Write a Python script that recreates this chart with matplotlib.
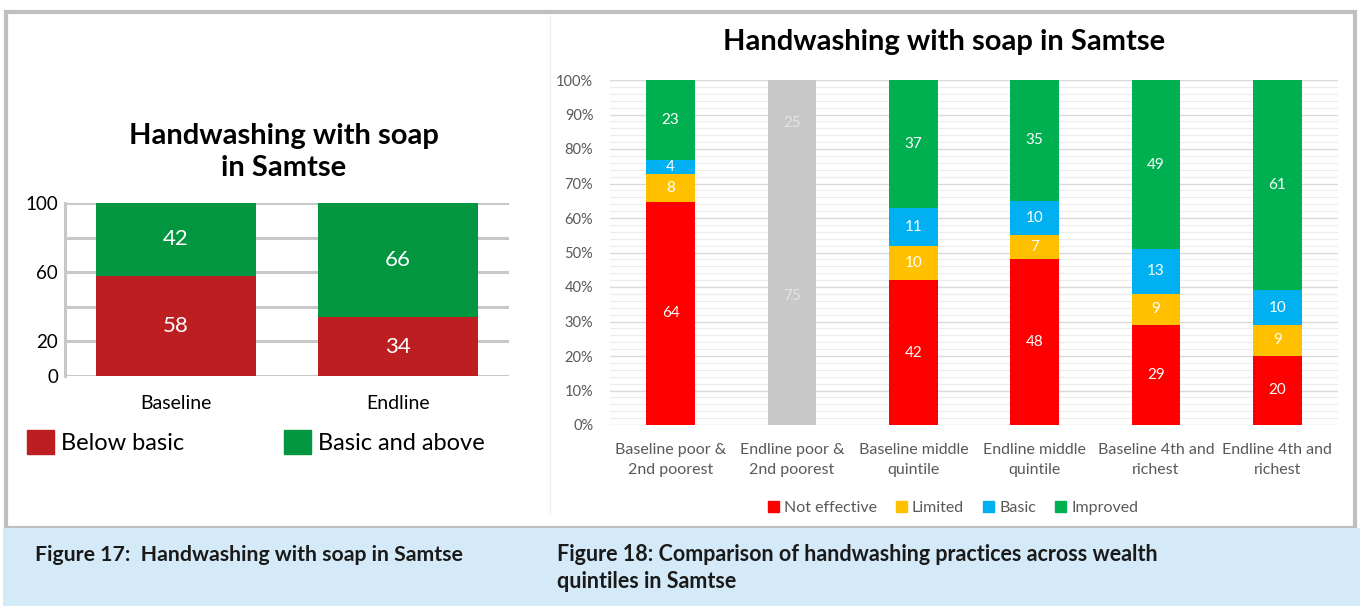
import matplotlib.pyplot as plt
from matplotlib.patches import Rectangle, Patch
from matplotlib.lines import Line2D
import numpy as np

plt.rcParams['font.family'] = ['Lato', 'DejaVu Sans']

W, H = 1360, 606

# figure 17 data
periods = ['Baseline', 'Endline']
below_basic = [58, 34]
basic_above = [42, 66]

# figure 18 data
groups = ['Baseline poor &\n2nd poorest', 'Endline poor &\n2nd poorest',
          'Baseline middle\nquintile', 'Endline middle\nquintile',
          'Baseline 4th and\nrichest', 'Endline 4th and\nrichest']
not_effective = [64, 75, 42, 48, 29, 20]
limited = [8, 0, 10, 7, 9, 9]
basic = [4, 0, 11, 10, 13, 10]
improved = [23, 25, 37, 35, 49, 61]
greyed = 1  # endline poor bar is shown greyed out


def px_rect(left, top, right, bottom):
    return [left / W, 1 - bottom / H, (right - left) / W, (bottom - top) / H]


fig = plt.figure(figsize=(W / 100, H / 100), dpi=100)

# page decoration: frame + caption band
fig.patches.append(Rectangle((6 / W, 1 - 528 / H), 1349 / W, 516 / H, transform=fig.transFigure,
                             facecolor='white', edgecolor='#bfbfbf', lw=3, zorder=-2))
fig.lines.append(Line2D([550 / W, 550 / W], [1 - 513 / H, 1 - 15 / H], transform=fig.transFigure,
                        color='#f0f0f0', lw=1, zorder=-1))
fig.patches.append(Rectangle((3 / W, 0), 1 - 3 / W, 1 - 528 / H, transform=fig.transFigure,
                             facecolor='#d5eaf8', edgecolor='none', zorder=1))

# ---- Figure 17 ----
ax1 = fig.add_axes(px_rect(65, 203, 509, 376))
x1 = np.arange(len(periods))
red17, green17 = '#bc1e22', '#039641'
b1 = ax1.bar(x1, below_basic, 0.72, color=red17, zorder=3, label='Below basic')
b2 = ax1.bar(x1, basic_above, 0.72, bottom=below_basic, color=green17, zorder=3, label='Basic and above')
for bars in (b1, b2):
    ax1.bar_label(bars, label_type='center', color='white', fontsize=16)
ax1.set_xlim(-0.5, 1.5)
ax1.set_ylim(0, 100)
ax1.set_yticks([0, 20, 60, 100])
ax1.set_yticks([40, 80], minor=True)
ax1.grid(axis='y', which='both', color='#c8c8c8', lw=2.2, zorder=0)
ax1.set_xticks(x1, periods)
ax1.tick_params(axis='x', length=0, pad=14, labelsize=14)
ax1.tick_params(axis='y', which='both', length=0, pad=5, labelsize=13.5)
for s in ('top', 'right', 'bottom'):
    ax1.spines[s].set_visible(False)
ax1.spines['left'].set_color('#c8c8c8')
ax1.spines['left'].set_linewidth(2.2)
ax1.set_facecolor('none')
ax1.set_axisbelow(True)
fig.text(284 / W, 1 - 152 / H, 'Handwashing with soap\nin Samtse', ha='center', va='center',
         fontsize=21, fontweight='bold', linespacing=1.3)
fig.legend(handles=[Patch(color=red17, label='Below basic'), Patch(color=green17, label='Basic and above')],
           loc='center left', bbox_to_anchor=(27 / W, 1 - 442 / H), ncol=2, frameon=False,
           fontsize=17, handlelength=1.15, handleheight=1.2, handletextpad=0.3,
           columnspacing=4.2, borderpad=0, borderaxespad=0)

# ---- Figure 18 ----
ax2 = fig.add_axes(px_rect(610, 80, 1338, 425))
series = [('Not effective', not_effective, '#ff0000'),
          ('Limited', limited, '#ffc000'),
          ('Basic', basic, '#00b0f0'),
          ('Improved', improved, '#00b050')]
totals = np.sum([s[1] for s in series], axis=0)
x2 = np.arange(len(groups))
bottom = np.zeros(len(groups))
for name, vals, col in series:
    vals = np.array(vals, dtype=float)
    pct = vals / totals * 100
    colors = [col] * len(groups)
    colors[greyed] = '#c8c8c8'
    bars = ax2.bar(x2, pct, 0.40, bottom=bottom, color=colors, zorder=3)
    for i, (bar, v) in enumerate(zip(bars, vals)):
        if v > 0:
            ax2.text(bar.get_x() + bar.get_width() / 2, bottom[i] + pct[i] / 2, f'{v:.0f}',
                     ha='center', va='center', fontsize=11,
                     color='#e4e4e4' if i == greyed else 'white', zorder=4)
    bottom += pct
ax2.set_xlim(-0.5, 5.5)
ax2.set_ylim(0, 100)
ax2.set_yticks(np.arange(0, 101, 10), [f'{v}%' for v in range(0, 101, 10)])
ax2.set_yticks(np.arange(0, 101, 2), minor=True)
ax2.grid(axis='y', which='major', color='#d9d9d9', lw=1, zorder=0)
ax2.grid(axis='y', which='minor', color='#ececec', lw=0.8, zorder=0)
ax2.set_axisbelow(True)
ax2.set_xticks(x2, groups)
ax2.tick_params(axis='x', length=0, pad=13, labelsize=11.5, labelcolor='#595959')
ax2.tick_params(axis='y', which='both', length=0, pad=12, labelsize=10.5, labelcolor='#595959')
for lbl in ax2.get_xticklabels():
    lbl.set_linespacing(1.5)
for s in ax2.spines.values():
    s.set_visible(False)
ax2.set_facecolor('none')
fig.text(944 / W, 1 - 42 / H, 'Handwashing with soap in Samtse', ha='center', va='center',
         fontsize=21, fontweight='bold')
fig.legend(handles=[Patch(color=c, label=n) for n, _, c in series], loc='center',
           bbox_to_anchor=(953 / W, 1 - 508 / H), ncol=4, frameon=False, fontsize=11.5,
           labelcolor='#595959', handlelength=0.7, handleheight=0.7, handletextpad=0.3,
           columnspacing=1.2, borderpad=0, borderaxespad=0)

# captions
fig.text(35 / W, 1 - 555 / H, 'Figure 17:  Handwashing with soap in Samtse', ha='left', va='center',
         fontsize=15.3, fontweight='bold', color='#1a1a1a', zorder=5)
fig.text(557 / W, 1 - 568 / H, 'Figure 18: Comparison of handwashing practices across wealth\nquintiles in Samtse',
         ha='left', va='center', fontsize=15.5, fontweight='bold', color='#1a1a1a',
         linespacing=1.35, zorder=5)

fig.savefig('out.png', dpi=100)
